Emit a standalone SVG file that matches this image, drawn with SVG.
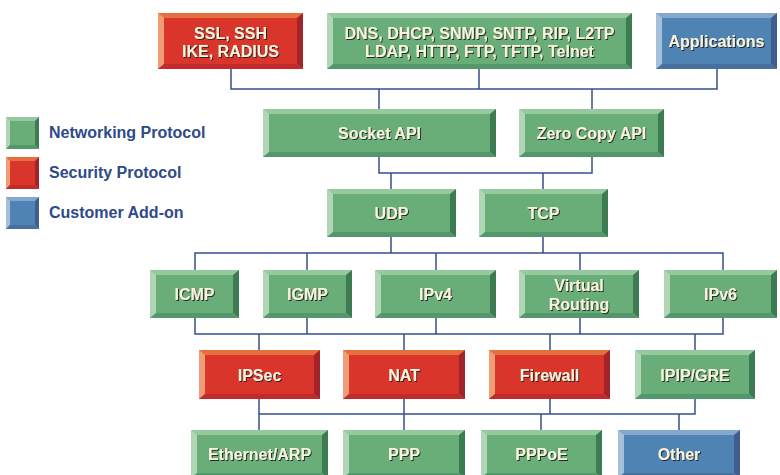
<svg xmlns="http://www.w3.org/2000/svg" width="780" height="475" viewBox="0 0 780 475">
<defs>
<filter id="sh" x="-10%" y="-30%" width="120%" height="160%">
<feDropShadow dx="1" dy="1" stdDeviation="0.35" flood-color="#1e1e1e" flood-opacity="0.9"/>
</filter>
<style>
.green .t{fill:#97c9a0}.green .l{fill:#b0d6b6}.green .r{fill:#3d7b53}.green .b{fill:#52986a}.green .f{fill:#69ae78}
.red .t{fill:#e5703f}.red .l{fill:#ef9d77}.red .r{fill:#a3232b}.red .b{fill:#c22a2c}.red .f{fill:#da352b}
.blue .t{fill:#85a7cb}.blue .l{fill:#a7c0da}.blue .r{fill:#3e5f8b}.blue .b{fill:#46719f}.blue .f{fill:#4e83b4}
.lbl{font-family:"Liberation Sans",Arial,sans-serif;font-weight:bold;font-size:16px;fill:#f7f3dc;text-anchor:middle;filter:url(#sh)}
.leg{font-family:"Liberation Sans",Arial,sans-serif;font-weight:bold;font-size:16px;fill:#2f4a8a}
.con{fill:none;stroke:#34508f;stroke-width:1.5}
</style>
</defs>
<rect width="780" height="475" fill="#ffffff"/>

<g id="connectors" class="con">
<path d="M231 69V89H717V69M479 69V89M379 89V109M592 89V109"/>
<path d="M379 157V173H592V157M391 173V189M543 173V189"/>
<path d="M391 237V253M543 237V253M195 270V253H723V270M307 253V270M436 253V270M580 253V270"/>
<path d="M195 318V334H723V318M307 318V334M436 318V334M580 318V334M259 334V350M404 334V350M550 334V350M695 334V350"/>
<path d="M259 399V414H695V399M404 399V414M550 399V414M259 414V430M404 414V430M541 414V430M679 414V430"/>
</g>

<g id="legend">
<g id="legend-networking" class="green">
<rect class="t" x="6" y="117" width="33" height="32"/>
<polygon class="l" points="6,117 10,121 10,145 6,149"/>
<polygon class="r" points="39,117 39,149 35,145 35,121"/>
<polygon class="b" points="6,149 10,145 35,145 39,149"/>
<rect class="f" x="10" y="121" width="25" height="24"/>
<text class="leg" x="49" y="137.5">Networking Protocol</text>
</g>
<g id="legend-security" class="red">
<rect class="t" x="6" y="157" width="33" height="32"/>
<polygon class="l" points="6,157 10,161 10,185 6,189"/>
<polygon class="r" points="39,157 39,189 35,185 35,161"/>
<polygon class="b" points="6,189 10,185 35,185 39,189"/>
<rect class="f" x="10" y="161" width="25" height="24"/>
<text class="leg" x="49" y="177.5">Security Protocol</text>
</g>
<g id="legend-customer" class="blue">
<rect class="t" x="6" y="197" width="33" height="32"/>
<polygon class="l" points="6,197 10,201 10,225 6,229"/>
<polygon class="r" points="39,197 39,229 35,225 35,201"/>
<polygon class="b" points="6,229 10,225 35,225 39,229"/>
<rect class="f" x="10" y="201" width="25" height="24"/>
<text class="leg" x="49" y="217.5">Customer Add-on</text>
</g>
</g>

<g id="ssl" class="red">
<rect class="t" x="158" y="13" width="145" height="56"/>
<polygon class="l" points="158,13 164,18 164,64 158,69"/>
<polygon class="r" points="303,13 303,69 297,64 297,18"/>
<polygon class="b" points="158,69 164,64 297,64 303,69"/>
<rect class="f" x="164" y="18" width="133" height="46"/>
<text class="lbl" x="230.5" y="38.5">SSL, SSH</text>
<text class="lbl" x="230.5" y="57">IKE, RADIUS</text>
</g>
<g id="dns" class="green">
<rect class="t" x="327" y="13" width="305" height="56"/>
<polygon class="l" points="327,13 333,18 333,64 327,69"/>
<polygon class="r" points="632,13 632,69 626,64 626,18"/>
<polygon class="b" points="327,69 333,64 626,64 632,69"/>
<rect class="f" x="333" y="18" width="293" height="46"/>
<text class="lbl" x="479.5" y="38.5">DNS, DHCP, SNMP, SNTP, RIP, L2TP</text>
<text class="lbl" x="479.5" y="57">LDAP, HTTP, FTP, TFTP, Telnet</text>
</g>
<g id="applications" class="blue">
<rect class="t" x="656" y="13" width="121" height="56"/>
<polygon class="l" points="656,13 662,18 662,64 656,69"/>
<polygon class="r" points="777,13 777,69 771,64 771,18"/>
<polygon class="b" points="656,69 662,64 771,64 777,69"/>
<rect class="f" x="662" y="18" width="109" height="46"/>
<text class="lbl" x="716.5" y="47">Applications</text>
</g>

<g id="socket-api" class="green">
<rect class="t" x="263" y="109" width="233" height="48"/>
<polygon class="l" points="263,109 269,114 269,152 263,157"/>
<polygon class="r" points="496,109 496,157 490,152 490,114"/>
<polygon class="b" points="263,157 269,152 490,152 496,157"/>
<rect class="f" x="269" y="114" width="221" height="38"/>
<text class="lbl" x="379.5" y="139">Socket API</text>
</g>
<g id="zero-copy-api" class="green">
<rect class="t" x="519" y="109" width="145" height="48"/>
<polygon class="l" points="519,109 525,114 525,152 519,157"/>
<polygon class="r" points="664,109 664,157 658,152 658,114"/>
<polygon class="b" points="519,157 525,152 658,152 664,157"/>
<rect class="f" x="525" y="114" width="133" height="38"/>
<text class="lbl" x="591.5" y="139">Zero Copy API</text>
</g>

<g id="udp" class="green">
<rect class="t" x="327" y="189" width="129" height="48"/>
<polygon class="l" points="327,189 333,194 333,232 327,237"/>
<polygon class="r" points="456,189 456,237 450,232 450,194"/>
<polygon class="b" points="327,237 333,232 450,232 456,237"/>
<rect class="f" x="333" y="194" width="117" height="38"/>
<text class="lbl" x="391.5" y="219">UDP</text>
</g>
<g id="tcp" class="green">
<rect class="t" x="479" y="189" width="129" height="48"/>
<polygon class="l" points="479,189 485,194 485,232 479,237"/>
<polygon class="r" points="608,189 608,237 602,232 602,194"/>
<polygon class="b" points="479,237 485,232 602,232 608,237"/>
<rect class="f" x="485" y="194" width="117" height="38"/>
<text class="lbl" x="543.5" y="219">TCP</text>
</g>

<g id="icmp" class="green">
<rect class="t" x="150" y="270" width="89" height="48"/>
<polygon class="l" points="150,270 156,275 156,313 150,318"/>
<polygon class="r" points="239,270 239,318 233,313 233,275"/>
<polygon class="b" points="150,318 156,313 233,313 239,318"/>
<rect class="f" x="156" y="275" width="77" height="38"/>
<text class="lbl" x="194.5" y="300">ICMP</text>
</g>
<g id="igmp" class="green">
<rect class="t" x="263" y="270" width="89" height="48"/>
<polygon class="l" points="263,270 269,275 269,313 263,318"/>
<polygon class="r" points="352,270 352,318 346,313 346,275"/>
<polygon class="b" points="263,318 269,313 346,313 352,318"/>
<rect class="f" x="269" y="275" width="77" height="38"/>
<text class="lbl" x="307.5" y="300">IGMP</text>
</g>
<g id="ipv4" class="green">
<rect class="t" x="375" y="270" width="121" height="48"/>
<polygon class="l" points="375,270 381,275 381,313 375,318"/>
<polygon class="r" points="496,270 496,318 490,313 490,275"/>
<polygon class="b" points="375,318 381,313 490,313 496,318"/>
<rect class="f" x="381" y="275" width="109" height="38"/>
<text class="lbl" x="435.5" y="300">IPv4</text>
</g>
<g id="virtual-routing" class="green">
<rect class="t" x="519" y="270" width="120" height="48"/>
<polygon class="l" points="519,270 525,275 525,313 519,318"/>
<polygon class="r" points="639,270 639,318 633,313 633,275"/>
<polygon class="b" points="519,318 525,313 633,313 639,318"/>
<rect class="f" x="525" y="275" width="108" height="38"/>
<text class="lbl" x="579" y="291">Virtual</text>
<text class="lbl" x="579" y="310">Routing</text>
</g>
<g id="ipv6" class="green">
<rect class="t" x="664" y="270" width="113" height="48"/>
<polygon class="l" points="664,270 670,275 670,313 664,318"/>
<polygon class="r" points="777,270 777,318 771,313 771,275"/>
<polygon class="b" points="664,318 670,313 771,313 777,318"/>
<rect class="f" x="670" y="275" width="101" height="38"/>
<text class="lbl" x="720.5" y="300">IPv6</text>
</g>

<g id="ipsec" class="red">
<rect class="t" x="199" y="350" width="121" height="49"/>
<polygon class="l" points="199,350 205,355 205,394 199,399"/>
<polygon class="r" points="320,350 320,399 314,394 314,355"/>
<polygon class="b" points="199,399 205,394 314,394 320,399"/>
<rect class="f" x="205" y="355" width="109" height="39"/>
<text class="lbl" x="259.5" y="380.5">IPSec</text>
</g>
<g id="nat" class="red">
<rect class="t" x="343" y="350" width="122" height="49"/>
<polygon class="l" points="343,350 349,355 349,394 343,399"/>
<polygon class="r" points="465,350 465,399 459,394 459,355"/>
<polygon class="b" points="343,399 349,394 459,394 465,399"/>
<rect class="f" x="349" y="355" width="110" height="39"/>
<text class="lbl" x="404" y="380.5">NAT</text>
</g>
<g id="firewall" class="red">
<rect class="t" x="489" y="350" width="121" height="49"/>
<polygon class="l" points="489,350 495,355 495,394 489,399"/>
<polygon class="r" points="610,350 610,399 604,394 604,355"/>
<polygon class="b" points="489,399 495,394 604,394 610,399"/>
<rect class="f" x="495" y="355" width="109" height="39"/>
<text class="lbl" x="549.5" y="380.5">Firewall</text>
</g>
<g id="ipip-gre" class="green">
<rect class="t" x="635" y="350" width="120" height="49"/>
<polygon class="l" points="635,350 641,355 641,394 635,399"/>
<polygon class="r" points="755,350 755,399 749,394 749,355"/>
<polygon class="b" points="635,399 641,394 749,394 755,399"/>
<rect class="f" x="641" y="355" width="108" height="39"/>
<text class="lbl" x="695" y="380.5">IPIP/GRE</text>
</g>

<g id="ethernet-arp" class="green">
<rect class="t" x="191" y="430" width="137" height="48"/>
<polygon class="l" points="191,430 197,435 197,473 191,478"/>
<polygon class="r" points="328,430 328,478 322,473 322,435"/>
<polygon class="b" points="191,478 197,473 322,473 328,478"/>
<rect class="f" x="197" y="435" width="125" height="38"/>
<text class="lbl" x="259.5" y="460">Ethernet/ARP</text>
</g>
<g id="ppp" class="green">
<rect class="t" x="343" y="430" width="122" height="48"/>
<polygon class="l" points="343,430 349,435 349,473 343,478"/>
<polygon class="r" points="465,430 465,478 459,473 459,435"/>
<polygon class="b" points="343,478 349,473 459,473 465,478"/>
<rect class="f" x="349" y="435" width="110" height="38"/>
<text class="lbl" x="404" y="460">PPP</text>
</g>
<g id="pppoe" class="green">
<rect class="t" x="481" y="430" width="121" height="48"/>
<polygon class="l" points="481,430 487,435 487,473 481,478"/>
<polygon class="r" points="602,430 602,478 596,473 596,435"/>
<polygon class="b" points="481,478 487,473 596,473 602,478"/>
<rect class="f" x="487" y="435" width="109" height="38"/>
<text class="lbl" x="541.5" y="460">PPPoE</text>
</g>
<g id="other" class="blue">
<rect class="t" x="618" y="430" width="122" height="48"/>
<polygon class="l" points="618,430 624,435 624,473 618,478"/>
<polygon class="r" points="740,430 740,478 734,473 734,435"/>
<polygon class="b" points="618,478 624,473 734,473 740,478"/>
<rect class="f" x="624" y="435" width="110" height="38"/>
<text class="lbl" x="679" y="460">Other</text>
</g>
</svg>
